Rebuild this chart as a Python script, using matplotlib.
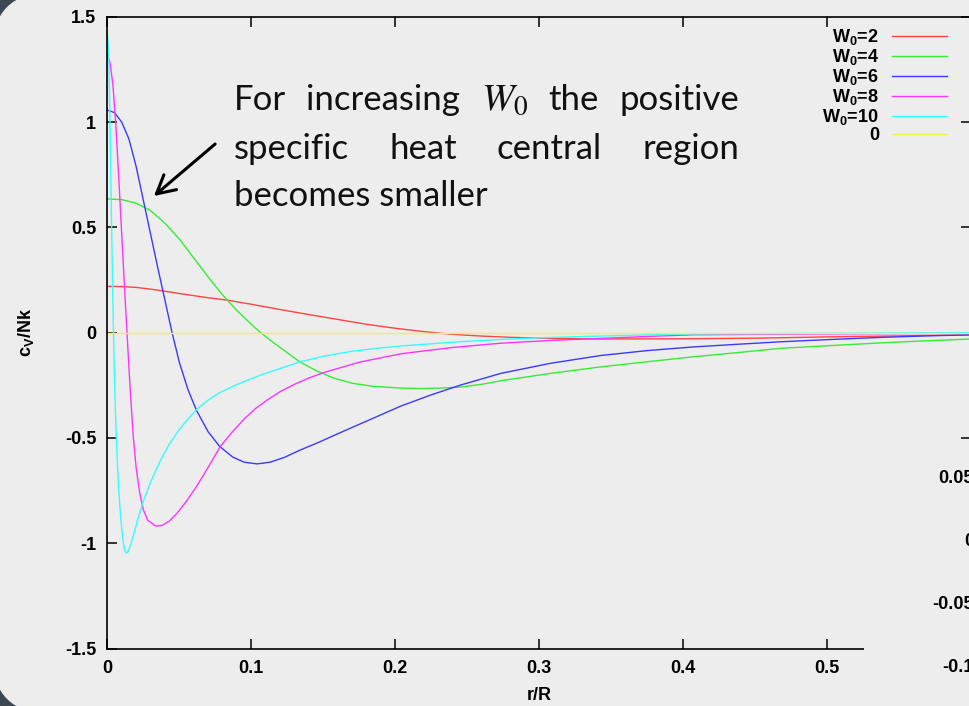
import numpy as np
import matplotlib
matplotlib.use('Agg')
import matplotlib.pyplot as plt
from matplotlib.patches import FancyBboxPatch, Rectangle
from matplotlib.transforms import IdentityTransform
from matplotlib.ticker import FuncFormatter

# curves (r/R, c_V/Nk)
r_w2 = [0, 0.01, 0.02, 0.03, 0.04, 0.05, 0.06, 0.07, 0.083, 0.1, 0.12, 0.14, 0.16, 0.18, 0.2, 0.22, 0.24,
        0.26, 0.28, 0.3, 0.34, 0.4, 0.45, 0.5, 0.55, 0.6]
c_w2 = [0.22, 0.219, 0.215, 0.207, 0.197, 0.186, 0.176, 0.166, 0.155, 0.135, 0.11, 0.086, 0.063, 0.04, 0.021,
        0.005, -0.008, -0.016, -0.022, -0.026, -0.03, -0.029, -0.026, -0.02, -0.015, -0.01]

r_w4 = [0, 0.01, 0.02, 0.03, 0.04, 0.05, 0.06, 0.07, 0.08, 0.09, 0.1, 0.1065, 0.115, 0.125, 0.134, 0.145,
        0.157, 0.17, 0.185, 0.204, 0.218, 0.232, 0.2456, 0.26, 0.2734, 0.308, 0.343, 0.375, 0.406, 0.44,
        0.468, 0.5, 0.538, 0.57, 0.6]
c_w4 = [0.635, 0.632, 0.615, 0.58, 0.52, 0.445, 0.355, 0.265, 0.18, 0.105, 0.04, 0.0, -0.045, -0.095, -0.14,
        -0.18, -0.215, -0.24, -0.255, -0.263, -0.265, -0.263, -0.258, -0.245, -0.228, -0.193, -0.162, -0.138,
        -0.115, -0.093, -0.074, -0.062, -0.048, -0.038, -0.03]

r_w6 = [0, 0.005, 0.01, 0.015, 0.02, 0.025, 0.03, 0.035, 0.04, 0.045, 0.05, 0.056, 0.062, 0.07, 0.078, 0.087,
        0.095, 0.104, 0.113, 0.123, 0.134, 0.147, 0.16, 0.18, 0.204, 0.225, 0.2456, 0.2734, 0.308, 0.343,
        0.375, 0.406, 0.44, 0.468, 0.5, 0.538, 0.57, 0.6]
c_w6 = [1.057, 1.045, 1.0, 0.92, 0.79, 0.63, 0.47, 0.31, 0.155, 0.0, -0.14, -0.27, -0.37, -0.47, -0.54, -0.59,
        -0.615, -0.623, -0.615, -0.592, -0.557, -0.52, -0.48, -0.42, -0.348, -0.295, -0.248, -0.193, -0.145,
        -0.108, -0.085, -0.068, -0.054, -0.043, -0.033, -0.022, -0.015, -0.01]

r_w8 = [0, 0.002, 0.004, 0.006, 0.008, 0.01, 0.012, 0.014, 0.016, 0.018, 0.02, 0.0225, 0.025, 0.028, 0.0335,
        0.038, 0.043, 0.0485, 0.055, 0.062, 0.07, 0.0785, 0.087, 0.095, 0.103, 0.111, 0.12, 0.13, 0.14, 0.15,
        0.175, 0.204, 0.24, 0.273, 0.31, 0.343, 0.375, 0.406, 0.45, 0.5, 0.6]
c_w8 = [1.32, 1.28, 1.17, 0.98, 0.73, 0.47, 0.21, -0.04, -0.28, -0.49, -0.64, -0.76, -0.84, -0.89, -0.918,
        -0.915, -0.895, -0.857, -0.8, -0.73, -0.64, -0.54, -0.47, -0.41, -0.36, -0.32, -0.28, -0.245, -0.215,
        -0.19, -0.14, -0.1, -0.07, -0.05, -0.036, -0.027, -0.018, -0.01, -0.008, -0.006, -0.003]

r_w10 = [0, 0.001, 0.002, 0.003, 0.004, 0.005, 0.006, 0.007, 0.008, 0.009, 0.01, 0.011, 0.012, 0.013, 0.014,
         0.015, 0.0165, 0.018, 0.021, 0.025, 0.03, 0.037, 0.043, 0.05, 0.056, 0.062, 0.07, 0.078, 0.088, 0.1,
         0.11, 0.12, 0.134, 0.15, 0.17, 0.19, 0.204, 0.24, 0.273, 0.31, 0.343, 0.375, 0.406, 0.45, 0.5, 0.6]
c_w10 = [1.43, 1.33, 0.95, 0.5, 0.1, -0.22, -0.45, -0.62, -0.75, -0.85, -0.93, -0.99, -1.03, -1.045, -1.045,
         -1.03, -1.0, -0.965, -0.89, -0.8, -0.71, -0.605, -0.53, -0.46, -0.41, -0.365, -0.32, -0.285, -0.252,
         -0.218, -0.193, -0.17, -0.138, -0.112, -0.088, -0.072, -0.063, -0.045, -0.032, -0.022, -0.016, -0.01,
         -0.006, -0.004, -0.003, 0.0]

r_zero = [0, 0.6]
c_zero = [0, 0]

labels = ['W$_\\mathregular{0}$=2', 'W$_\\mathregular{0}$=4', 'W$_\\mathregular{0}$=6',
          'W$_\\mathregular{0}$=8', 'W$_\\mathregular{0}$=10', '0']
colors = ['#ff4444', '#33ee33', '#3a3aff', '#ff33ff', '#33ffff', '#f2f250']

inset_ticks = [-0.1, -0.05, 0, 0.05]

W, H = 969, 706
bg = '#ededed'
fig = plt.figure(figsize=(W / 100, H / 100), dpi=100)
fig.patch.set_facecolor('#3d4852')
slide = FancyBboxPatch((-8, -8), 1030, 722, boxstyle='round,pad=0,rounding_size=60',
                       transform=IdentityTransform(), facecolor=bg, edgecolor='none', zorder=-10)
fig.add_artist(slide)

ax = fig.add_axes([107.3 / W, 57.4 / H, 864 / W, 631.8 / H])
ax.set_facecolor(bg)

series = [(r_w2, c_w2), (r_w4, c_w4), (r_w6, c_w6), (r_w8, c_w8), (r_w10, c_w10), (r_zero, c_zero)]
handles = []
for (xs, ys), col, lab in zip(series, colors, labels):
    h, = ax.plot(xs, ys, color=col, lw=1.0, label=lab)
    handles.append(h)


def tick_fmt(v, p):
    # the 0.6 label is hidden behind the inset in the original
    if abs(v - 0.6) < 1e-9:
        return ''
    return '%g' % (round(v, 3) + 0.0)


fmt = FuncFormatter(tick_fmt)
ax.set_xlim(0, 0.6)
ax.set_ylim(-1.5, 1.5)
ax.set_xticks(np.arange(0, 0.61, 0.1))
ax.set_yticks(np.arange(-1.5, 1.51, 0.5))
ax.xaxis.set_major_formatter(fmt)
ax.yaxis.set_major_formatter(fmt)
ax.tick_params(direction='in', length=7, width=1.1, top=True, right=True, labelsize=13, pad=8)
for t in ax.get_xticklabels() + ax.get_yticklabels():
    t.set_fontfamily('Liberation Sans')
    t.set_fontweight('bold')
for s in ax.spines.values():
    s.set_linewidth(1.2)

ax.set_xlabel('r/R', fontsize=13, fontweight='bold', family='Liberation Sans')
ax.xaxis.set_label_coords(0.5, -0.061)
ax.set_ylabel('c$_\\mathregular{V}$/Nk', fontsize=13, fontweight='bold', family='Liberation Sans')
ax.yaxis.set_label_coords(-0.083, 0.5)

ax.legend(handles=handles, loc='upper right', bbox_to_anchor=(947 / W, 1 - 27 / H),
          bbox_transform=fig.transFigure, frameon=False, markerfirst=False,
          handlelength=3.05, handletextpad=0.72, borderpad=0, borderaxespad=0, labelspacing=0.0,
          prop={'family': 'Liberation Sans', 'weight': 'bold', 'size': 13})

ax.annotate('', xy=(0.0324, 0.649), xytext=(0.0749, 0.896),
            arrowprops=dict(arrowstyle='->,head_length=0.65,head_width=0.35', lw=2.2, color='black',
                            mutation_scale=20, shrinkA=0, shrinkB=0))

# part of a second (inset) plot sitting at the right, mostly cut off
cover = Rectangle((864, 0), 130, 261, transform=IdentityTransform(), facecolor=bg, edgecolor='none', zorder=5)
fig.add_artist(cover)
ax_in = fig.add_axes([985 / W, 41 / H, 0.2, 251 / H], zorder=6)
ax_in.set_facecolor(bg)
ax_in.set_ylim(-0.1, 0.1)
ax_in.set_yticks(inset_ticks)
ax_in.set_xticks([])
ax_in.yaxis.set_major_formatter(fmt)
ax_in.tick_params(direction='in', length=7, labelsize=13, pad=8)
for t in ax_in.get_yticklabels():
    t.set_fontfamily('Liberation Sans')
    t.set_fontweight('bold')

# slide text, justified word by word
text_lines = [(['For', 'increasing', '$W_0$', 'the', 'positive'], 110, True),
              (['specific', 'heat', 'central', 'region'], 159, True),
              (['becomes smaller'], 206, False)]
left_px, right_px = 234, 739
fig.canvas.draw()
rend = fig.canvas.get_renderer()
for words, base, justify in text_lines:
    objs = []
    for w in words:
        size = 28 if w.startswith('$') else 25
        objs.append(fig.text(0, 1 - base / H, w, fontsize=size, family='Lato', va='baseline', ha='left',
                             math_fontfamily='stix', color='#111111'))
    widths = [o.get_window_extent(rend).width for o in objs]
    gap = (right_px - left_px - sum(widths)) / (len(words) - 1) if justify else 0
    x = left_px
    for o, wd in zip(objs, widths):
        o.set_x(x / W)
        x += wd + gap

fig.savefig('out.png', dpi=100, facecolor=fig.get_facecolor())
